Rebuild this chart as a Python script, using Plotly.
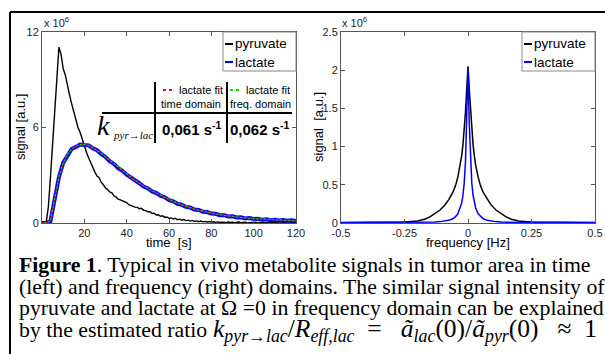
import plotly.graph_objects as go

# ---------------- data ----------------
t_pyr = list(range(0, 121))
pyruvate_t = [0.0, 0.0, 0.05, 1.0, 2.9, 4.9, 7.0, 9.1, 11.05, 10.6,
              9.7, 9.3, 8.6, 8.05, 7.5, 7.0, 6.5, 6.0, 5.7, 5.25,
              4.85, 4.45, 4.1, 3.75, 3.5, 3.2, 2.95, 2.85, 2.55, 2.4,
              2.2, 2.1, 1.95, 1.9, 1.7, 1.65, 1.5, 1.45, 1.38, 1.3,
              1.28, 1.15, 1.12, 1.05, 1.0, 0.98, 0.9, 0.92, 0.8, 0.78,
              0.7, 0.72, 0.6, 0.62, 0.5, 0.52, 0.42, 0.45, 0.35, 0.38,
              0.3, 0.32, 0.25, 0.3, 0.2, 0.24, 0.18, 0.22, 0.15, 0.18,
              0.12, 0.16, 0.1, 0.13, 0.08, 0.12, 0.07, 0.1, 0.06, 0.09,
              0.05, 0.08, 0.04, 0.07, 0.03, 0.06, 0.05, 0.02, 0.06, 0.03,
              0.05, 0.02, 0.04, 0.06, 0.02, 0.03, 0.05, 0.01, 0.04, 0.03,
              0.02, 0.05, 0.01, 0.03, 0.04, 0.02, 0.03, 0.01, 0.04, 0.02,
              0.03, 0.05, 0.01, 0.02, 0.04, 0.03, 0.01, 0.03, 0.02, 0.04, 0.02]

t_lac = list(range(0, 121, 2))
lactate_t = [0, 0, 0.12, 1.62, 2.88, 3.78, 4.28, 4.65, 4.78, 4.93,
             4.9, 4.88, 4.7, 4.57, 4.33, 4.15, 3.89, 3.71, 3.45, 3.28,
             3.03, 2.87, 2.64, 2.5, 2.29, 2.17, 1.98, 1.88, 1.71, 1.62,
             1.43, 1.36, 1.21, 1.15, 1.01, 0.97, 0.85, 0.82, 0.71, 0.69,
             0.59, 0.58, 0.49, 0.49, 0.41, 0.42, 0.35, 0.36, 0.29, 0.31,
             0.25, 0.27, 0.21, 0.23, 0.18, 0.21, 0.16, 0.19, 0.14, 0.17, 0.12]
fit_time = [0, 0, 0.15, 1.6, 2.9, 3.75, 4.3, 4.62, 4.8, 4.9,
            4.93, 4.86, 4.72, 4.55, 4.35, 4.13, 3.91, 3.69, 3.47, 3.26,
            3.05, 2.85, 2.66, 2.48, 2.31, 2.15, 2.0, 1.86, 1.72, 1.58,
            1.45, 1.34, 1.23, 1.13, 1.03, 0.95, 0.87, 0.8, 0.73, 0.67,
            0.61, 0.56, 0.51, 0.47, 0.43, 0.4, 0.37, 0.34, 0.31, 0.29,
            0.27, 0.25, 0.23, 0.21, 0.2, 0.19, 0.18, 0.17, 0.16, 0.15, 0.14]
fit_freq = [0, 0, 0.14, 1.58, 2.88, 3.76, 4.31, 4.64, 4.82, 4.92,
            4.95, 4.88, 4.74, 4.57, 4.37, 4.15, 3.93, 3.71, 3.49, 3.28,
            3.07, 2.87, 2.68, 2.5, 2.33, 2.17, 2.02, 1.88, 1.74, 1.6,
            1.47, 1.36, 1.25, 1.15, 1.05, 0.96, 0.88, 0.81, 0.74, 0.68,
            0.62, 0.57, 0.52, 0.48, 0.44, 0.41, 0.38, 0.35, 0.32, 0.3,
            0.28, 0.26, 0.24, 0.22, 0.21, 0.2, 0.18, 0.17, 0.16, 0.15, 0.14]

freq = [-0.5, -0.4, -0.3, -0.25, -0.2, -0.17, -0.15, -0.13, -0.11, -0.09,
        -0.075, -0.06, -0.05, -0.04, -0.03, -0.025, -0.02, -0.015, -0.01, -0.005,
        0.0,
        0.005, 0.01, 0.015, 0.02, 0.025, 0.03, 0.04, 0.05, 0.06, 0.075,
        0.09, 0.11, 0.13, 0.15, 0.17, 0.2, 0.25, 0.3, 0.4, 0.5]
pyruvate_f = [0.005, 0.008, 0.01, 0.012, 0.025, 0.05, 0.08, 0.12, 0.17, 0.24,
              0.31, 0.40, 0.48, 0.60, 0.76, 0.88, 1.02, 1.22, 1.45, 1.75,
              2.05,
              1.75, 1.45, 1.22, 1.02, 0.88, 0.76, 0.60, 0.48, 0.40, 0.31,
              0.24, 0.17, 0.12, 0.08, 0.05, 0.025, 0.012, 0.01, 0.008, 0.005]
lactate_f = [0.002, 0.003, 0.004, 0.005, 0.006, 0.008, 0.01, 0.013, 0.018, 0.025,
             0.035, 0.055, 0.08, 0.12, 0.2, 0.26, 0.36, 0.52, 0.8, 1.3,
             2.02,
             1.3, 0.8, 0.52, 0.36, 0.26, 0.2, 0.12, 0.08, 0.055, 0.035,
             0.025, 0.018, 0.013, 0.01, 0.008, 0.006, 0.005, 0.004, 0.003, 0.002]

left_xticks = [20, 40, 60, 80, 100, 120]
left_yticks = [0, 6, 12]
right_xticks = [-0.5, -0.25, 0, 0.25, 0.5]
right_xticklabels = ["-0.5", "-0.25", "0", "0.25", "0.5"]
right_yticks = [0, 0.5, 1, 1.5, 2, 2.5]

W, H = 605, 354
def px(x):
    return x / W
def py(y):
    return 1 - y / H

SANS = "Liberation Sans, Arial, sans-serif"
SERIF = "Liberation Serif, Times New Roman, serif"

fig = go.Figure()
fig.add_trace(go.Scatter(x=t_pyr, y=pyruvate_t, mode="lines", line=dict(color="black", width=1.4),
                         xaxis="x", yaxis="y", showlegend=False))
fig.add_trace(go.Scatter(x=t_lac, y=lactate_t, mode="lines", line=dict(color="#0000ff", width=4),
                         xaxis="x", yaxis="y", showlegend=False))
fig.add_trace(go.Scatter(x=t_lac, y=fit_time, mode="lines", line=dict(color="#ff0000", width=1.3, dash="2px,2px"),
                         xaxis="x", yaxis="y", showlegend=False))
fig.add_trace(go.Scatter(x=t_lac, y=fit_freq, mode="lines", line=dict(color="#00dd00", width=1.3, dash="0px,2px,2px,0px"),
                         xaxis="x", yaxis="y", showlegend=False))
fig.add_trace(go.Scatter(x=freq, y=pyruvate_f, mode="lines", line=dict(color="black", width=1.5),
                         xaxis="x2", yaxis="y2", showlegend=False))
fig.add_trace(go.Scatter(x=freq, y=lactate_f, mode="lines", line=dict(color="#0000ff", width=1.5),
                         xaxis="x2", yaxis="y2", showlegend=False))

axcommon = dict(showline=True, linecolor="#555", linewidth=1, mirror="ticks", ticks="inside",
                ticklen=4, tickcolor="#555", showgrid=False, zeroline=False, automargin=False,
                tickfont=dict(family=SANS, size=11, color="#222"))

fig.update_layout(
    template="none",
    width=W, height=H, margin=dict(l=0, r=0, t=0, b=0, pad=0), paper_bgcolor="white", plot_bgcolor="white",
    showlegend=False,
    xaxis=dict(domain=[px(42), px(296)], range=[0, 120], tickvals=left_xticks, anchor="y", **axcommon),
    yaxis=dict(domain=[py(223), py(32)], range=[0, 12], tickvals=left_yticks, anchor="x", **axcommon),
    xaxis2=dict(domain=[px(341), px(595)], range=[-0.5, 0.5], tickvals=right_xticks,
                ticktext=right_xticklabels, anchor="y2", **axcommon),
    yaxis2=dict(domain=[py(223), py(32)], range=[0, 2.5], tickvals=right_yticks, anchor="x2", **axcommon),
)

shapes = []
ann = []

# outer frame
shapes.append(dict(type="line", xref="paper", yref="paper", x0=px(10), x1=px(605), y0=py(12), y1=py(12),
                   line=dict(color="black", width=2)))
shapes.append(dict(type="line", xref="paper", yref="paper", x0=px(10), x1=px(10), y0=py(12), y1=py(354),
                   line=dict(color="black", width=2)))

# legends (drawn manually, MATLAB style)
for x0 in (223, 522):
    shapes.append(dict(type="rect", xref="paper", yref="paper", x0=px(x0), x1=px(x0 + 73), y0=py(71), y1=py(32),
                       line=dict(color="#888", width=1), fillcolor="white", layer="above"))
    shapes.append(dict(type="line", xref="paper", yref="paper", x0=px(x0 + 2), x1=px(x0 + 10), y0=py(44), y1=py(44),
                       line=dict(color="black", width=2)))
    shapes.append(dict(type="line", xref="paper", yref="paper", x0=px(x0 + 2), x1=px(x0 + 10), y0=py(62), y1=py(62),
                       line=dict(color="#0000ff", width=2)))
    ann.append(dict(xref="paper", yref="paper", x=px(x0 + 10), y=py(44), xanchor="left", yanchor="middle",
                    text="pyruvate", showarrow=False, font=dict(family=SANS, size=13.5, color="black")))
    ann.append(dict(xref="paper", yref="paper", x=px(x0 + 10), y=py(62), xanchor="left", yanchor="middle",
                    text="lactate", showarrow=False, font=dict(family=SANS, size=13.5, color="black")))

# table inside left plot
tl = dict(color="black", width=2)
shapes.append(dict(type="line", xref="paper", yref="paper", x0=px(102), x1=px(292), y0=py(113), y1=py(113), line=tl))
shapes.append(dict(type="line", xref="paper", yref="paper", x0=px(155), x1=px(155), y0=py(82), y1=py(143), line=tl))
shapes.append(dict(type="line", xref="paper", yref="paper", x0=px(227), x1=px(227), y0=py(82), y1=py(143), line=tl))
# dashed key samples in table header
shapes.append(dict(type="line", xref="paper", yref="paper", x0=px(163), x1=px(175), y0=py(90), y1=py(90),
                   line=dict(color="#ff0000", width=2, dash="3px,3px")))
shapes.append(dict(type="line", xref="paper", yref="paper", x0=px(230), x1=px(242), y0=py(90), y1=py(90),
                   line=dict(color="#00dd00", width=2, dash="3px,3px")))
sm = dict(family=SANS, size=11, color="black")
ann.append(dict(xref="paper", yref="paper", x=px(177), y=py(90), xanchor="left", yanchor="middle", showarrow=False,
                text="lactate fit", font=sm))
ann.append(dict(xref="paper", yref="paper", x=px(244), y=py(90), xanchor="left", yanchor="middle", showarrow=False,
                text="lactate fit", font=sm))
ann.append(dict(xref="paper", yref="paper", x=px(191), y=py(104), xanchor="center", yanchor="middle", showarrow=False,
                text="time domain", font=sm))
ann.append(dict(xref="paper", yref="paper", x=px(260), y=py(104), xanchor="center", yanchor="middle", showarrow=False,
                text="freq. domain", font=sm))
bf = dict(family=SANS, size=15, color="black")
ann.append(dict(xref="paper", yref="paper", x=px(192), y=py(128), xanchor="center", yanchor="middle", showarrow=False,
                text="<b>0,061 s<sup>-1</sup></b>", font=bf))
ann.append(dict(xref="paper", yref="paper", x=px(260), y=py(128), xanchor="center", yanchor="middle", showarrow=False,
                text="<b>0,062 s<sup>-1</sup></b>", font=bf))
ann.append(dict(xref="paper", yref="paper", x=px(95), y=py(126), xanchor="left", yanchor="middle", showarrow=False,
                text="<i>k</i>", font=dict(family=SERIF, size=28, color="black")))
ann.append(dict(xref="paper", yref="paper", x=px(111), y=py(135), xanchor="left", yanchor="middle", showarrow=False,
                text="<i>pyr→lac</i>", font=dict(family=SERIF, size=11, color="black")))

# exponent labels
for x0 in (42, 340):
    ann.append(dict(xref="paper", yref="paper", x=px(x0), y=py(31), xanchor="left", yanchor="bottom", showarrow=False,
                    text="x 10<sup>6</sup>", font=dict(family=SANS, size=11, color="#222")))

# axis titles
tf = dict(family=SANS, size=13, color="black")
ann.append(dict(xref="paper", yref="paper", x=px(169), y=py(243), xanchor="center", yanchor="middle", showarrow=False,
                text="time  [s]", font=tf))
ann.append(dict(xref="paper", yref="paper", x=px(468), y=py(243), xanchor="center", yanchor="middle", showarrow=False,
                text="frequency [Hz]", font=tf))
ann.append(dict(xref="paper", yref="paper", x=px(20), y=py(127), xanchor="center", yanchor="middle", showarrow=False,
                text="signal [a.u.]", textangle=-90, font=tf))
ann.append(dict(xref="paper", yref="paper", x=px(318), y=py(127), xanchor="center", yanchor="middle", showarrow=False,
                text="signal  [a.u.]", textangle=-90, font=tf))

# caption
cap_lines = [
    "<b>Figure 1</b>. Typical in vivo metabolite signals in tumor area in time",
    "(left) and frequency (right) domains. The similar signal intensity of",
    "pyruvate and lactate at Ω =0 in frequency domain can be explained",
    "by the estimated ratio",
]
cap_y = [265, 286.5, 308, 329.5]
for line, yy in zip(cap_lines, cap_y):
    ann.append(dict(xref="paper", yref="paper", x=px(17), y=py(yy), xanchor="left", yanchor="middle", showarrow=False,
                    text=line, font=dict(family=SERIF, size=21.8, color="black")))
NB = "\u00a0"
math = ("<i>k</i><sub><i>pyr→lac</i></sub>/<i>R</i><sub><i>eff,lac</i></sub>" + NB * 2 + "=" + NB * 3 +
        "<i>ã</i><sub><i>lac</i></sub>(0)/<i>ã</i><sub><i>pyr</i></sub>(0)" + NB * 3 + "≈" + NB * 2 + "1")
ann.append(dict(xref="paper", yref="paper", x=px(211), y=py(329.5), xanchor="left", yanchor="middle", showarrow=False,
                text=math, font=dict(family=SERIF, size=25.5, color="black")))

fig.update_layout(shapes=shapes, annotations=ann)
fig.write_html("out.html", post_script="document.body.style.margin='0px';",
               config={"displayModeBar": False})
